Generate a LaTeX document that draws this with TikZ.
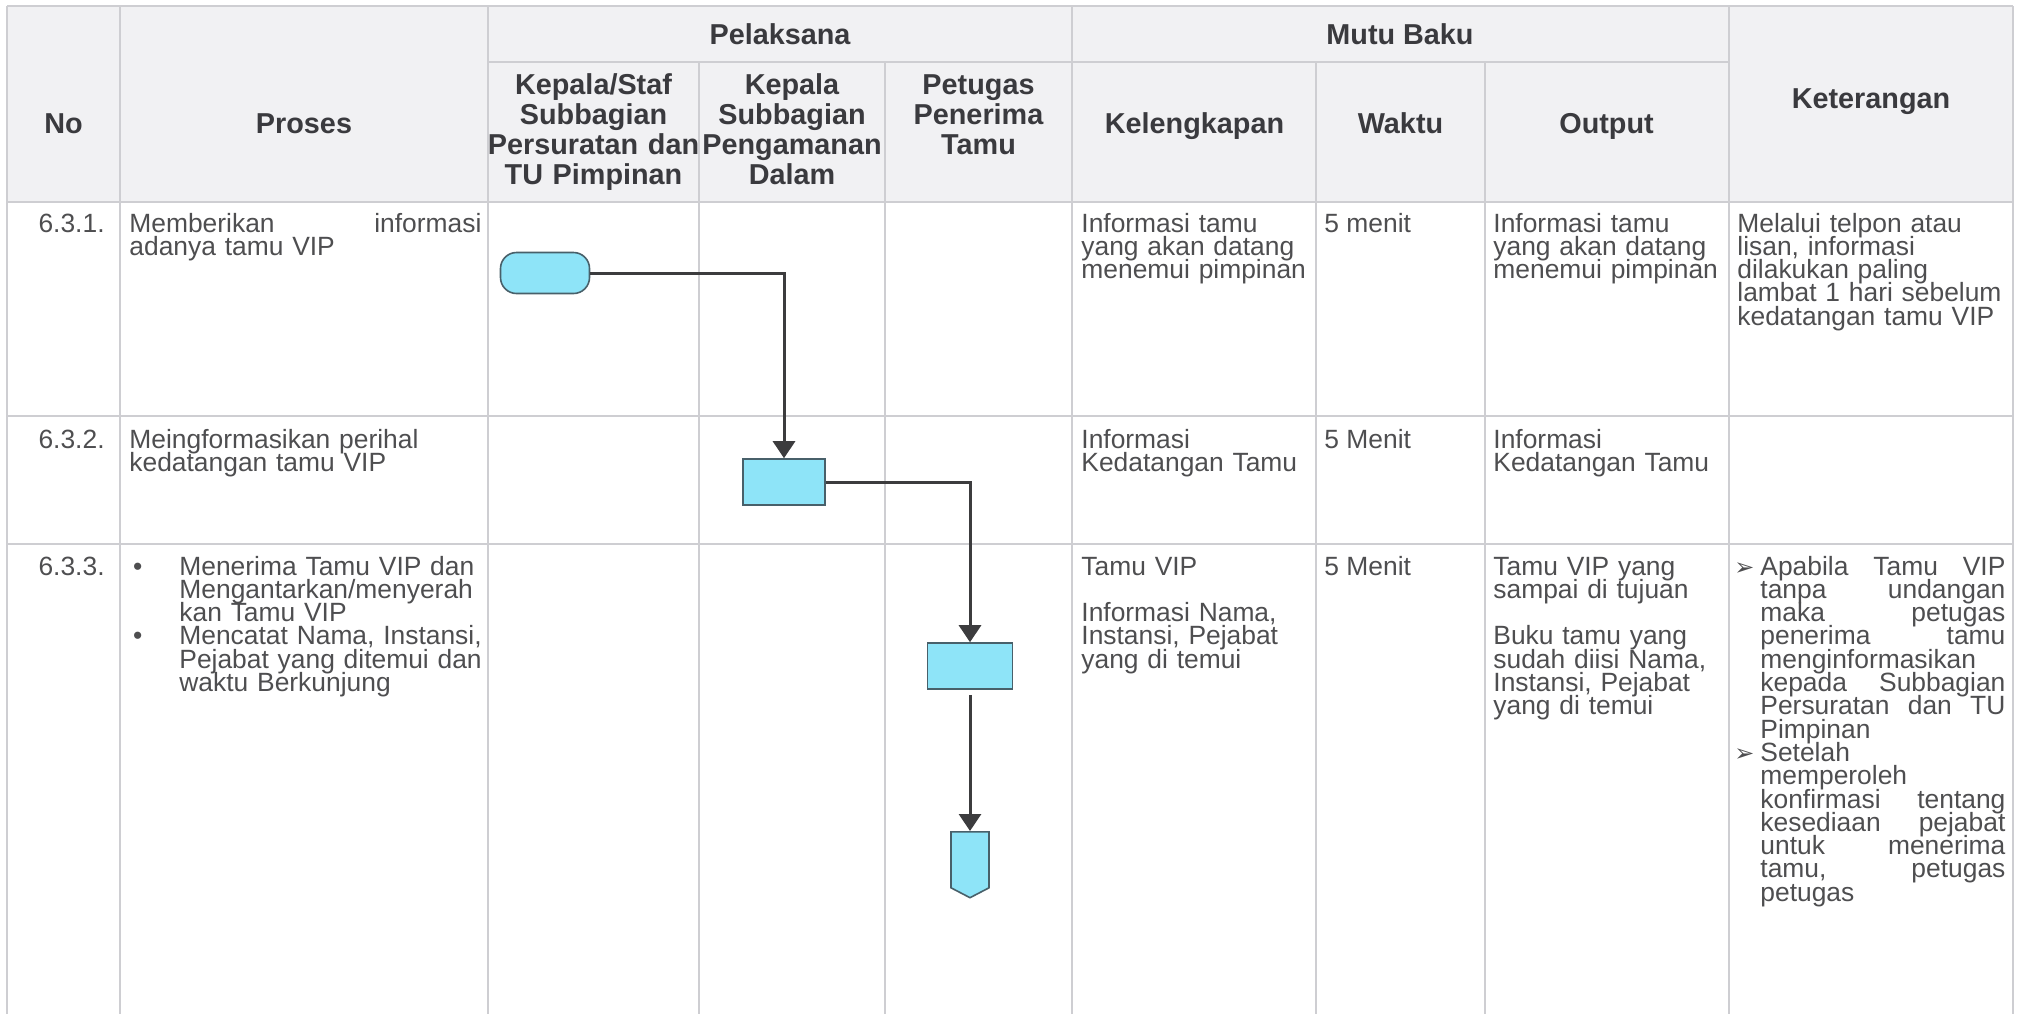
\documentclass[tikz,border=0pt]{standalone}
\usepackage{fontspec}
\setmainfont{Liberation Sans}
\newfontfamily\dingfont{DejaVu Sans}
\usetikzlibrary{arrows.meta,shapes.symbols}
\definecolor{ruleline}{RGB}{206,206,210}
\definecolor{headbg}{RGB}{241,241,243}
\definecolor{bodytext}{RGB}{78,78,80}
\definecolor{headtext}{RGB}{58,58,62}
\definecolor{flowfill}{RGB}{142,228,248}
\definecolor{flowline}{RGB}{72,96,106}
\definecolor{arrowcol}{RGB}{60,60,62}
\newcommand\bodyfont{\fontsize{13.2pt}{11.65pt}\selectfont}
\newcommand\headfont{\fontsize{14.4pt}{15pt}\selectfont\bfseries}
\newcommand\jline[1]{\makebox[\hsize][s]{\spaceskip=0pt\xspaceskip=0pt #1}}
\newcommand\bulletmark{\leavevmode\llap{•\hspace{18.5pt}}}
\newcommand\arrowmark{\leavevmode\llap{{\dingfont\fontsize{12pt}{12pt}\selectfont ➢}\hspace{3pt}}}
\tikzset{
  hdr/.style={anchor=base,inner sep=0pt,font=\headfont,text=headtext,align=center,
    execute at begin node={\lineskiplimit=-50pt\baselineskip=15pt}},
  cell/.style={anchor=base west,inner sep=0pt,font=\bodyfont,text=bodytext,align=left,
    execute at begin node={\lineskiplimit=-50pt\baselineskip=11.65pt}},
  tableline/.style={draw=ruleline,line width=0.6pt},
  flowbox/.style={draw=flowline,fill=flowfill,line width=0.8pt,minimum width=41pt,minimum height=23pt,inner sep=0pt},
  startbox/.style={flowbox,minimum width=44.5pt,minimum height=20.5pt,rounded corners=8pt},
  pagelink/.style={signal,signal to=south,signal pointer angle=125,draw=flowline,fill=flowfill,line width=0.8pt,minimum width=19pt,minimum height=28pt,inner sep=0pt},
  flow/.style={draw=arrowcol,line width=1.5pt,-{Triangle[length=8.5pt,width=11pt]}}
}

\begin{document}
\begin{tikzpicture}[x=0.5pt,y=-0.5pt]
  \useasboundingbox (0,0) rectangle (2022,1014);
  % table
  \fill[headbg] (7,6) rectangle (2013,202);
  \draw[tableline] (7,6) -- (2013,6);
  \draw[tableline] (488,62) -- (1729,62);
  \draw[tableline] (7,202) -- (2013,202);
  \draw[tableline] (7,416) -- (2013,416);
  \draw[tableline] (7,544) -- (2013,544);
  \draw[tableline] (7,6) -- (7,1014);
  \draw[tableline] (120,6) -- (120,1014);
  \draw[tableline] (488,6) -- (488,1014);
  \draw[tableline] (699,62) -- (699,1014);
  \draw[tableline] (885,62) -- (885,1014);
  \draw[tableline] (1072,6) -- (1072,1014);
  \draw[tableline] (1316,62) -- (1316,1014);
  \draw[tableline] (1485,62) -- (1485,1014);
  \draw[tableline] (1729,6) -- (1729,1014);
  \draw[tableline] (2013,6) -- (2013,1014);

  % header
  \node[hdr] (no) at (63.5,133) {No};
  \node[hdr] (proses) at (304,133) {Proses};
  \node[hdr] (pelaksana) at (780,44) {Pelaksana};
  \node[hdr] (mutubaku) at (1400,44) {Mutu Baku};
  \node[hdr] (keterangan) at (1871,108) {Keterangan};
  \node[hdr,text width=130pt] (kasubtu) at (593.5,94)
    {Kepala/Staf\\Subbagian\\Persuratan dan\\TU Pimpinan};
  \node[hdr,text width=120pt] (kasubpam) at (792,94)
    {Kepala\\Subbagian\\Pengamanan\\Dalam};
  \node[hdr,text width=110pt] (petugas) at (978.5,94)
    {Petugas\\Penerima\\Tamu};
  \node[hdr] (kelengkapan) at (1194.5,133) {Kelengkapan};
  \node[hdr] (waktu) at (1400.5,133) {Waktu};
  \node[hdr] (output) at (1606.5,133) {Output};

  % 6.3.1
  \node[cell,anchor=base east] (no1) at (105,232) {6.3.1.};
  \node[cell,text width=176pt] (proses1) at (129,232)
    {\jline{Memberikan informasi}\\adanya tamu VIP};
  \node[cell,text width=130pt] (kel1) at (1081,232)
    {Informasi tamu\\yang akan datang\\menemui pimpinan};
  \node[cell] (waktu1) at (1324,232) {5 menit};
  \node[cell,text width=130pt] (out1) at (1493,232)
    {Informasi tamu\\yang akan datang\\menemui pimpinan};
  \node[cell,text width=150pt] (ket1) at (1737,232)
    {Melalui telpon atau\\lisan, informasi\\dilakukan paling\\lambat 1 hari sebelum\\kedatangan tamu VIP};

  % 6.3.2
  \node[cell,anchor=base east] (no2) at (105,448) {6.3.2.};
  \node[cell,text width=176pt] (proses2) at (129,448)
    {Meingformasikan perihal\\kedatangan tamu VIP};
  \node[cell,text width=130pt] (kel2) at (1081,448)
    {Informasi\\Kedatangan Tamu};
  \node[cell] (waktu2) at (1324,448) {5 Menit};
  \node[cell,text width=130pt] (out2) at (1493,448)
    {Informasi\\Kedatangan Tamu};

  % 6.3.3
  \node[cell,anchor=base east] (no3) at (105,575) {6.3.3.};
  \node[cell,text width=170pt] (proses3) at (179,575)
    {\bulletmark Menerima Tamu VIP dan\\Mengantarkan/menyerah\\kan Tamu VIP\\
     \bulletmark Mencatat Nama, Instansi,\\Pejabat yang ditemui dan\\waktu Berkunjung};
  \node[cell,text width=130pt] (kel3) at (1081,575)
    {Tamu VIP\\[11.65pt]Informasi Nama,\\Instansi, Pejabat\\yang di temui};
  \node[cell] (waktu3) at (1324,575) {5 Menit};
  \node[cell,text width=130pt] (out3) at (1493,575)
    {Tamu VIP yang\\sampai di tujuan\\[11.65pt]Buku tamu yang\\sudah diisi Nama,\\Instansi, Pejabat\\yang di temui};
  \node[cell,text width=122.5pt] (ket3) at (1760,575)
    {\jline{\arrowmark Apabila Tamu VIP}\\
     \jline{tanpa undangan}\\
     \jline{maka petugas}\\
     \jline{penerima tamu}\\
     menginformasikan\\
     \jline{kepada Subbagian}\\
     \jline{Persuratan dan TU}\\
     Pimpinan\\
     \arrowmark Setelah\\
     memperoleh\\
     \jline{konfirmasi tentang}\\
     \jline{kesediaan pejabat}\\
     \jline{untuk menerima}\\
     \jline{tamu, petugas}\\
     petugas};

  % flow
  \node[startbox] (mulai) at (545,273) {};
  \node[flowbox] (kabar) at (784,482) {};
  \node[flowbox,minimum width=42.5pt] (terima) at (970,666) {};
  \node[pagelink,anchor=north] (lanjut) at (970,831) {};

  \draw[flow] (mulai.east) -| (kabar.north);
  \draw[flow] (kabar.east) -| (terima.north);
  \draw[flow,shorten <=2.5pt] (terima.south) -- (lanjut.north);
\end{tikzpicture}
\end{document}
